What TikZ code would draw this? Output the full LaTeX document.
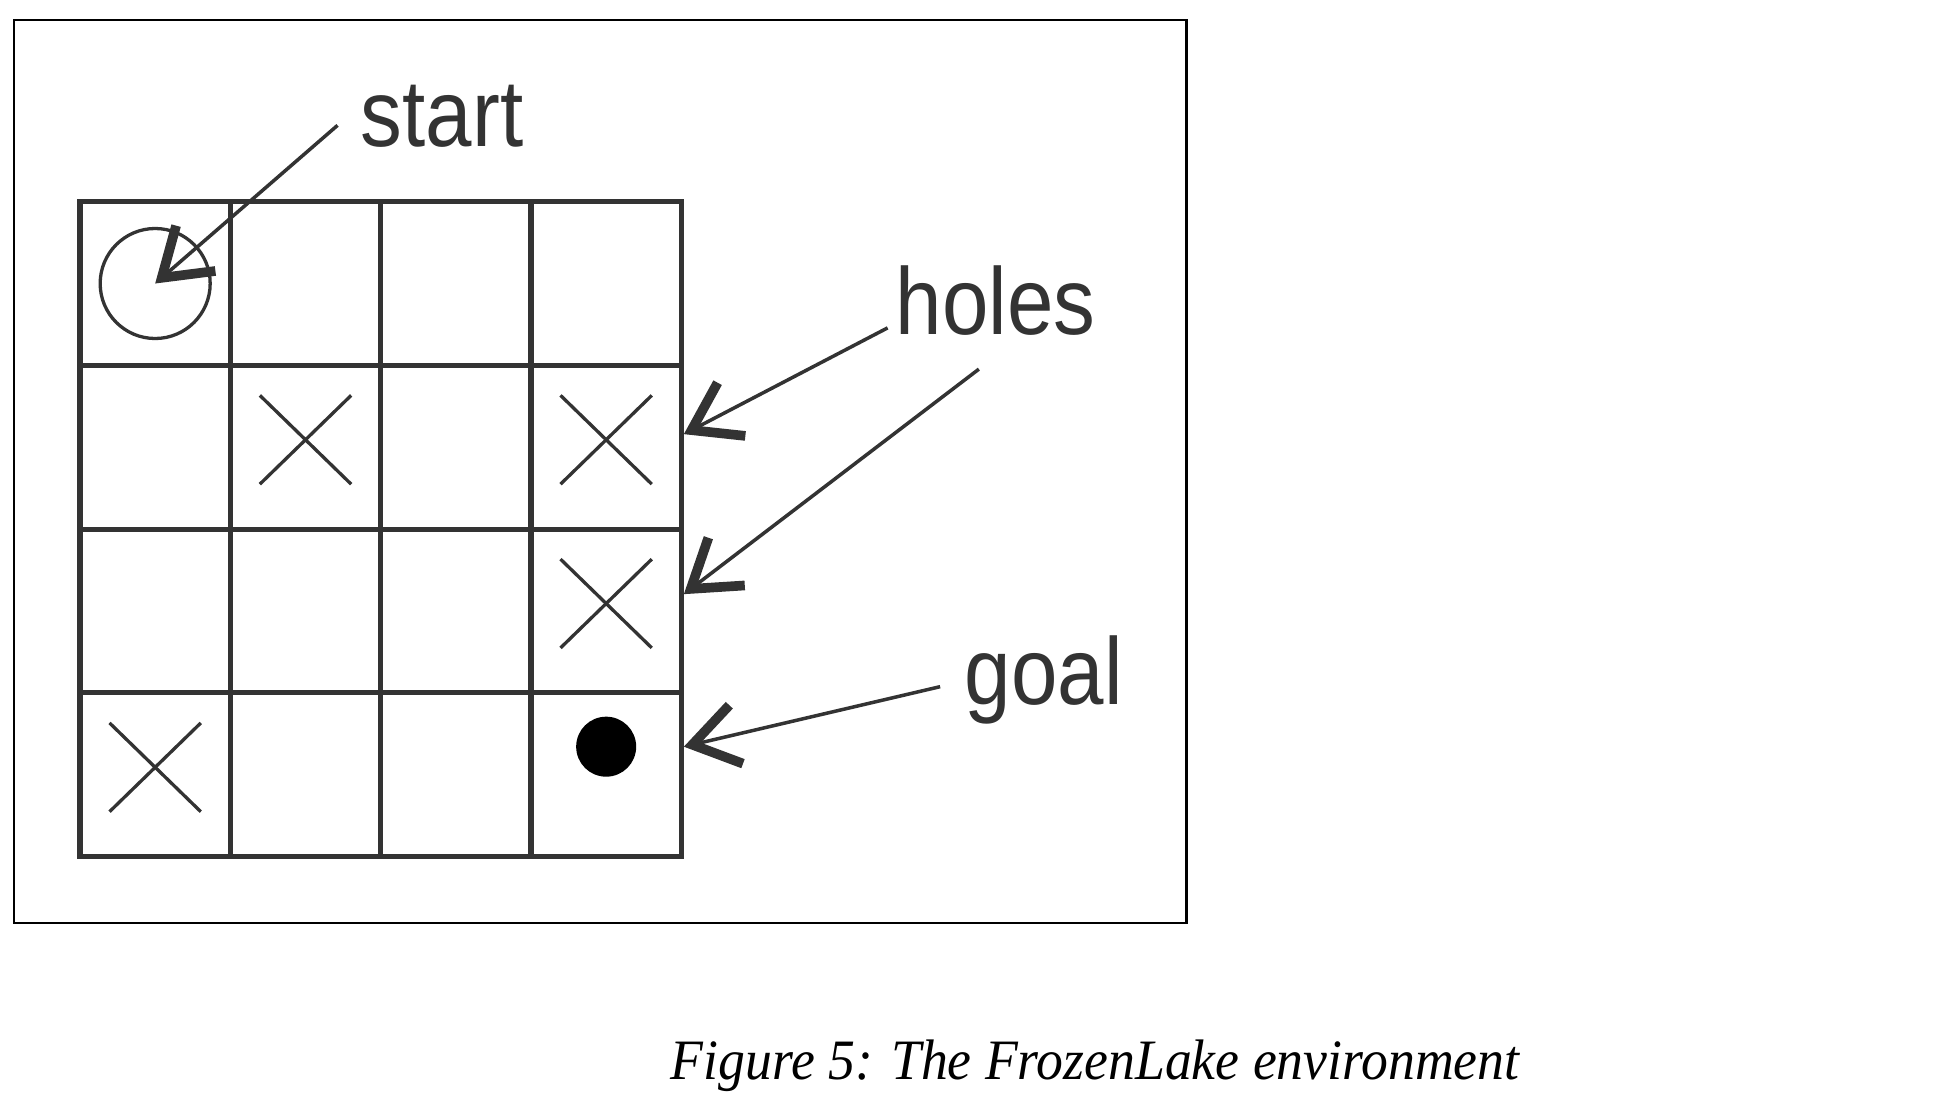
\documentclass[tikz,border=0pt]{standalone}
\usepackage{fontspec}
\setmainfont{Liberation Serif}
\setsansfont{Liberation Sans}
\usetikzlibrary{arrows.meta, positioning, calc}
\definecolor{ink}{HTML}{333333}
\tikzset{
    cell/.style={draw=ink, line width=1.15pt, rectangle, minimum width=1.2025cm, minimum height=1.31cm, inner sep=0pt},
    cross/.style={draw=ink, line width=0.75pt},
    tag/.style={font=\sffamily\fontsize{21.6}{24}\selectfont, text=ink, inner sep=0pt, anchor=base west},
    pointer/.style={draw=ink, line width=0.8pt, -{Straight Barb[length=3.6mm, width=4.8mm, line width=2.2pt]}}
}
\begin{document}
\begin{tikzpicture}
    \useasboundingbox (0,0) rectangle (15.63,8.863);
    \draw [black, line width=0.5pt] (0.11,1.48) rectangle (9.49,8.70);

    % the 4x4 lake
    \foreach \r in {0,...,3}
        \foreach \c in {0,...,3}
            \node [cell] (c\r\c) at ({0.64+1.2025*(\c+0.5)}, {7.25-1.31*(\r+0.5)}) {};

    \node [draw=ink, circle, line width=0.75pt, minimum size=0.88cm, inner sep=0pt] (ring) at (c00.center) {};
    \node [circle, fill=black, minimum size=0.48cm, inner sep=0pt] (dot) at ([yshift=0.225cm]c33.center) {};
    \foreach \h in {c11, c13, c23, c30} {
        \draw [cross] ([shift={(-0.365,-0.295)}]\h.center) -- ([shift={(0.365,0.415)}]\h.center);
        \draw [cross] ([shift={(-0.365,0.415)}]\h.center) -- ([shift={(0.365,-0.295)}]\h.center);
    }

    \node [tag] (start) at (2.88,7.69) {\scalebox{0.88}[1]{start}};
    \node [tag] (holes) at (7.16,6.19) {\scalebox{0.88}[1]{holes}};
    \node [tag] (goal) at (7.71,3.23) {\scalebox{0.88}[1]{goal}};

    \draw [pointer] ([shift={(-0.18,0.17)}]start.base west) -- (ring.center);
    \draw [pointer] ([shift={(-0.06,0.05)}]holes.base west) -- ([yshift=0.105cm]c13.east);
    \draw [pointer] ([shift={(0.67,-0.28)}]holes.base west) -- ([yshift=0.135cm]c23.east);
    \draw [pointer] ([shift={(-0.19,0.14)}]goal.base west) -- ([yshift=0.225cm]c33.east);

    \node [font=\itshape\fontsize{13}{15}\selectfont, anchor=base west, inner sep=0pt] (caption) at (5.36,0.23) {\scalebox{0.94}[1]{Figure 5: The FrozenLake environment}};
\end{tikzpicture}
\end{document}
